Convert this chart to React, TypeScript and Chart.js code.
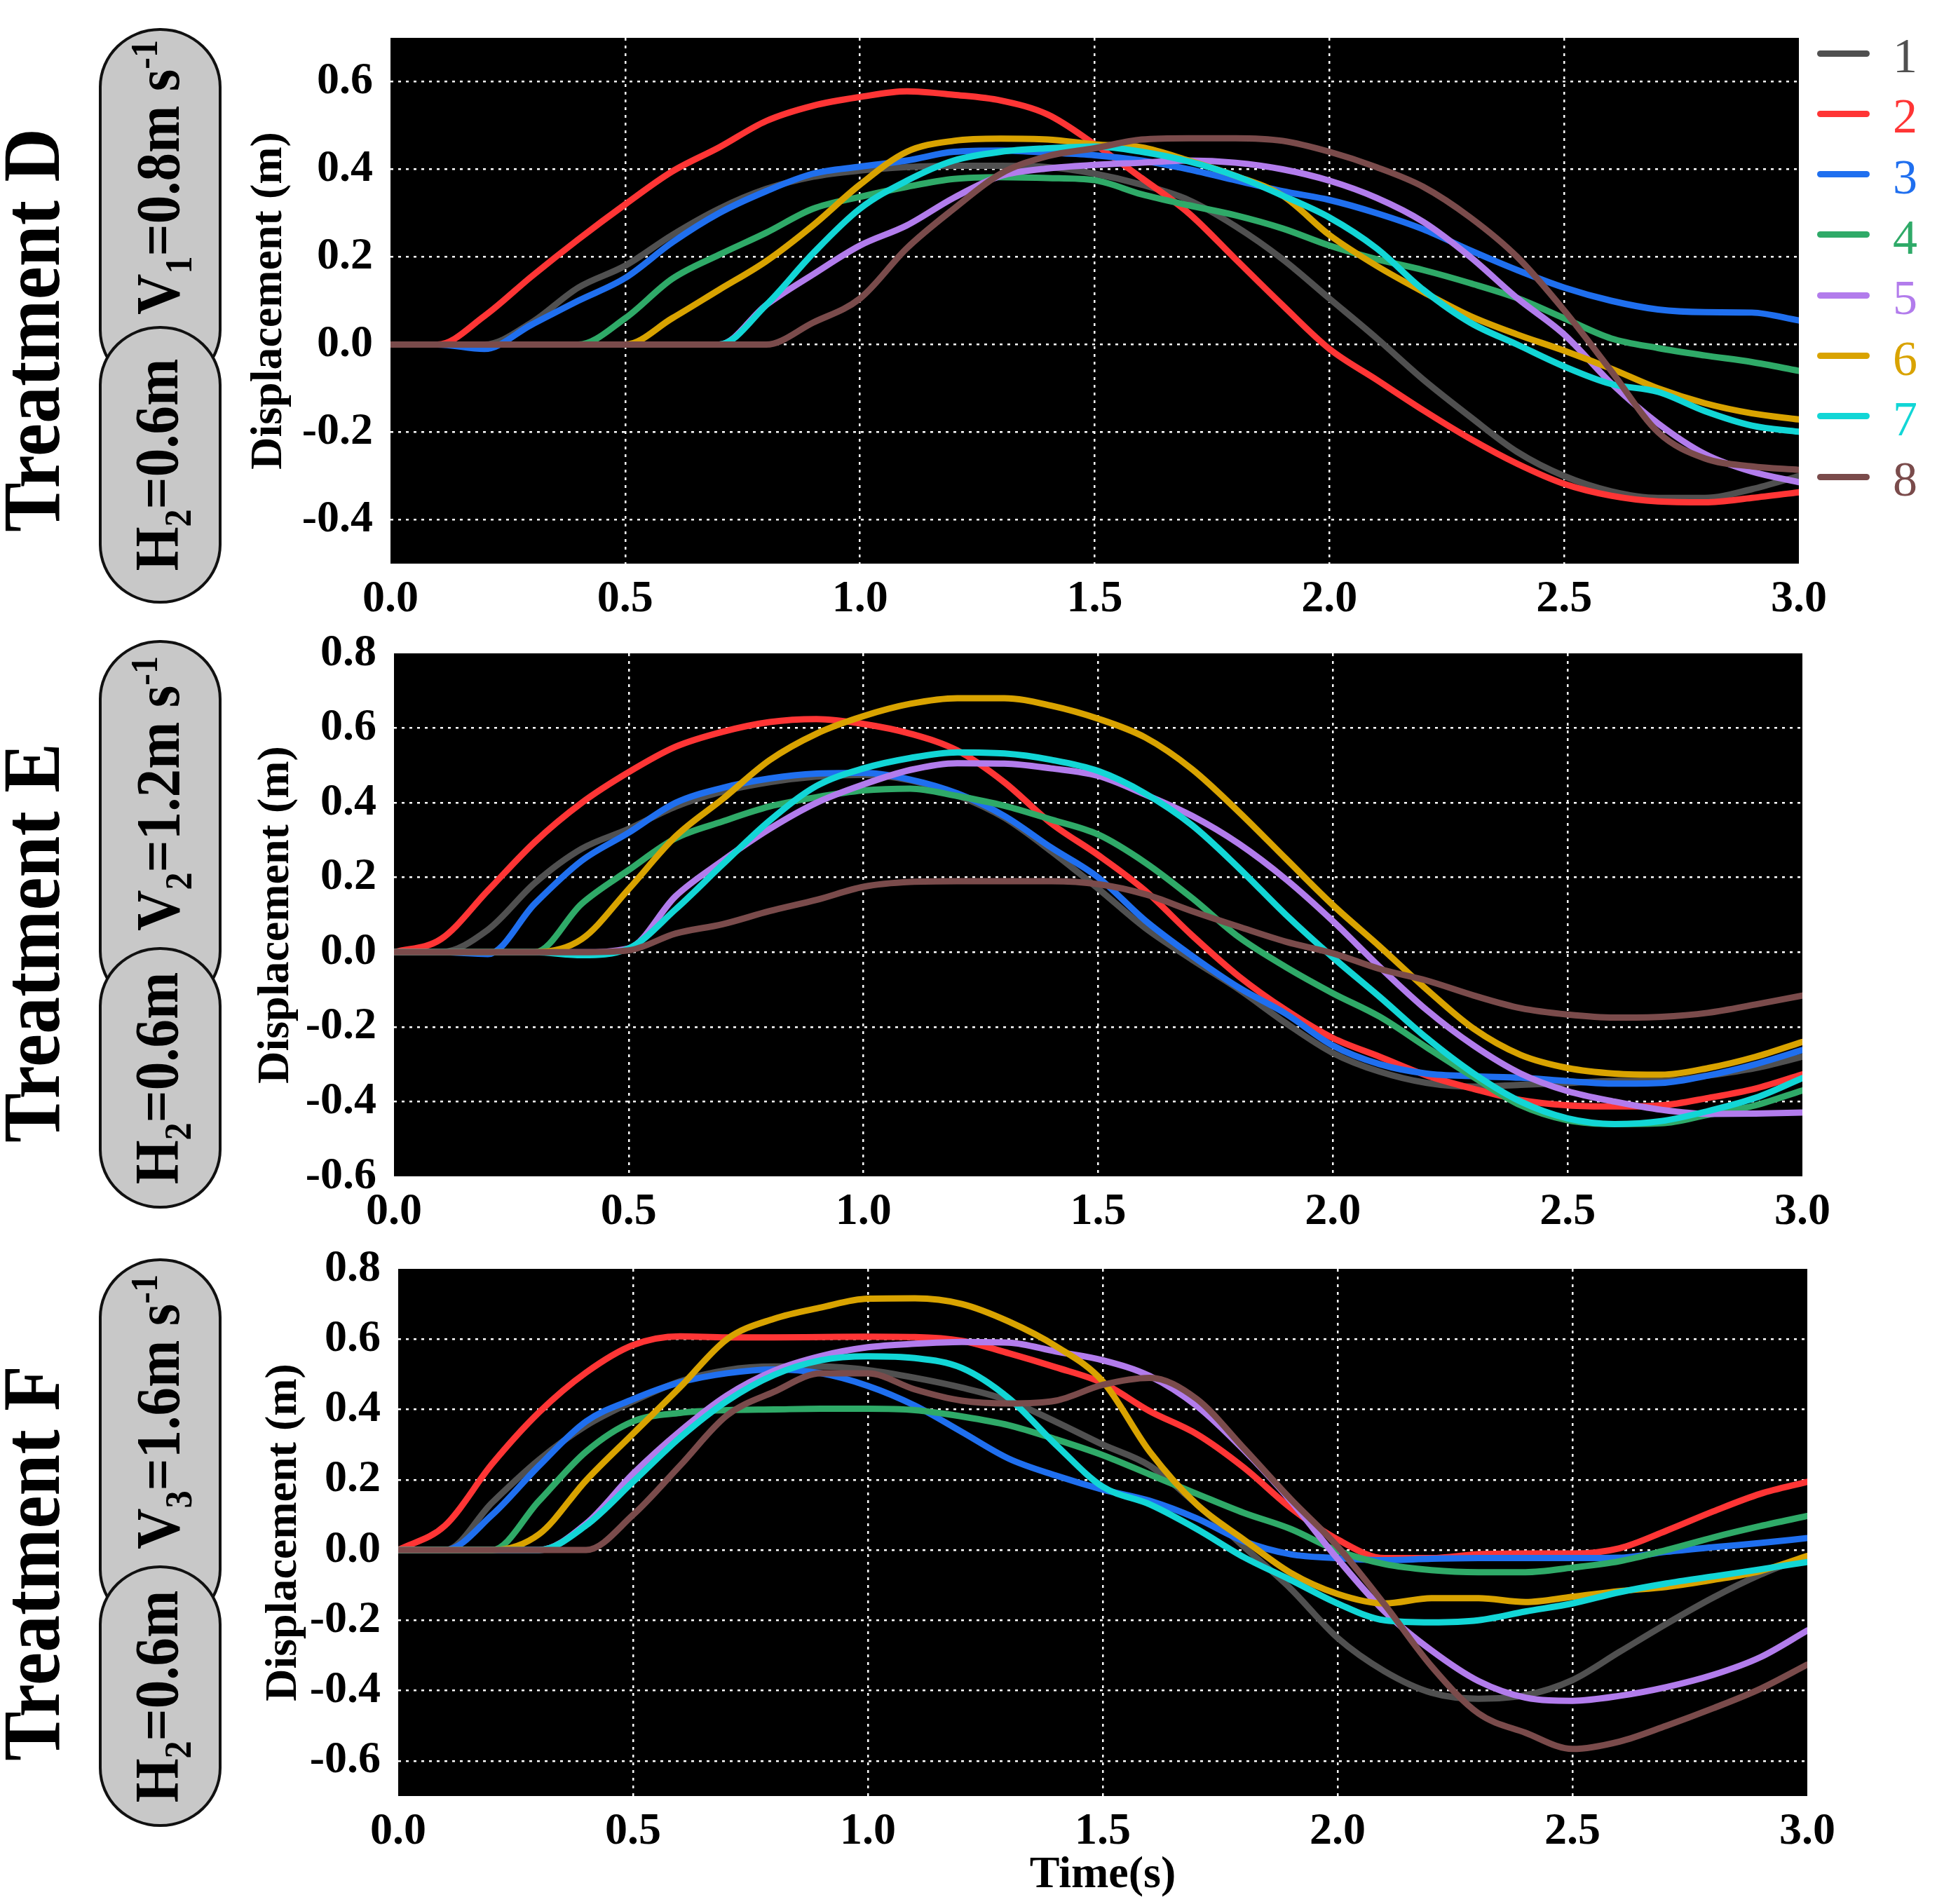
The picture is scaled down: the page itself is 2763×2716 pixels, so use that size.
import { useEffect, useRef } from "react"
import { Chart, registerables } from "chart.js"

Chart.register(...registerables)

const FONT = "'Liberation Serif', 'Times New Roman', serif"

// time axis (s), sampled every 0.1 s
const time = [
  0, 0.1, 0.2, 0.3, 0.4, 0.5, 0.6, 0.7, 0.8, 0.9, 1.0, 1.1, 1.2, 1.3, 1.4, 1.5,
  1.6, 1.7, 1.8, 1.9, 2.0, 2.1, 2.2, 2.3, 2.4, 2.5, 2.6, 2.7, 2.8, 2.9, 3.0,
]
const xTicks = [0, 0.5, 1.0, 1.5, 2.0, 2.5, 3.0]
const yTicksD = [-0.4, -0.2, 0, 0.2, 0.4, 0.6]
const yTicksE = [-0.6, -0.4, -0.2, 0, 0.2, 0.4, 0.6, 0.8]
const yTicksF = [-0.6, -0.4, -0.2, 0, 0.2, 0.4, 0.6, 0.8]

const seriesLabels = ["1", "2", "3", "4", "5", "6", "7", "8"]
const seriesColors = [
  "#505050", "#ff3535", "#1f6fef", "#2faa68",
  "#b27cec", "#d9a300", "#12d6d6", "#7a4b4b",
]

// Treatment D  (V1 = 0.8 m/s)
const dS1 = [0, 0, 0, 0.05, 0.13, 0.18, 0.25, 0.31, 0.355, 0.383, 0.397, 0.405, 0.408, 0.408, 0.405, 0.39, 0.365, 0.33, 0.27, 0.195, 0.105, 0.015, -0.08, -0.165, -0.245, -0.3, -0.335, -0.35, -0.35, -0.33, -0.3]
const dS2 = [0, 0, 0.065, 0.155, 0.24, 0.32, 0.395, 0.45, 0.51, 0.545, 0.565, 0.578, 0.57, 0.557, 0.525, 0.457, 0.38, 0.3, 0.195, 0.09, -0.01, -0.08, -0.15, -0.215, -0.272, -0.318, -0.345, -0.358, -0.36, -0.35, -0.337]
const dS3 = [0, 0, -0.01, 0.045, 0.1, 0.152, 0.233, 0.3, 0.35, 0.39, 0.406, 0.42, 0.44, 0.443, 0.438, 0.432, 0.42, 0.4, 0.375, 0.35, 0.33, 0.3, 0.263, 0.215, 0.17, 0.13, 0.1, 0.08, 0.074, 0.073, 0.055]
const dS4 = [0, 0, 0, 0, 0, 0.06, 0.15, 0.205, 0.255, 0.31, 0.337, 0.36, 0.378, 0.382, 0.38, 0.375, 0.343, 0.318, 0.295, 0.265, 0.226, 0.195, 0.17, 0.14, 0.106, 0.06, 0.014, -0.008, -0.025, -0.04, -0.06]
const dS5 = [0, 0, 0, 0, 0, 0, 0, 0, 0.09, 0.16, 0.226, 0.272, 0.335, 0.385, 0.402, 0.41, 0.415, 0.42, 0.415, 0.4, 0.374, 0.335, 0.28, 0.2, 0.106, 0.023, -0.088, -0.18, -0.25, -0.29, -0.314]
const dS6 = [0, 0, 0, 0, 0, 0, 0.06, 0.125, 0.19, 0.272, 0.365, 0.44, 0.465, 0.47, 0.468, 0.457, 0.45, 0.42, 0.385, 0.34, 0.25, 0.18, 0.12, 0.065, 0.023, -0.014, -0.055, -0.1, -0.134, -0.157, -0.171]
const dS7 = [0, 0, 0, 0, 0, 0, 0, 0, 0.09, 0.208, 0.31, 0.374, 0.42, 0.44, 0.448, 0.452, 0.44, 0.418, 0.385, 0.34, 0.29, 0.22, 0.125, 0.05, 0, -0.05, -0.09, -0.108, -0.152, -0.185, -0.199]
const dS8 = [0, 0, 0, 0, 0, 0, 0, 0, 0, 0.05, 0.105, 0.22, 0.31, 0.39, 0.43, 0.448, 0.468, 0.471, 0.471, 0.465, 0.44, 0.405, 0.36, 0.29, 0.2, 0.078, -0.06, -0.2, -0.26, -0.278, -0.286]

// Treatment E  (V2 = 1.2 m/s)
const eS1 = [0, 0, 0.06, 0.185, 0.277, 0.33, 0.39, 0.43, 0.455, 0.47, 0.475, 0.46, 0.42, 0.36, 0.27, 0.17, 0.065, -0.02, -0.1, -0.19, -0.27, -0.32, -0.35, -0.36, -0.355, -0.35, -0.345, -0.345, -0.33, -0.31, -0.28]
const eS2 = [0, 0.035, 0.165, 0.295, 0.4, 0.482, 0.55, 0.59, 0.616, 0.624, 0.611, 0.585, 0.54, 0.455, 0.345, 0.26, 0.165, 0.045, -0.065, -0.155, -0.23, -0.28, -0.33, -0.366, -0.396, -0.41, -0.413, -0.41, -0.39, -0.365, -0.327]
const eS3 = [0, 0, -0.005, 0.13, 0.245, 0.32, 0.4, 0.44, 0.465, 0.478, 0.48, 0.462, 0.425, 0.365, 0.28, 0.2, 0.085, -0.01, -0.095, -0.165, -0.25, -0.3, -0.325, -0.332, -0.336, -0.345, -0.352, -0.35, -0.33, -0.3, -0.262]
const eS4 = [0, 0, 0, 0, 0.13, 0.22, 0.305, 0.35, 0.39, 0.415, 0.433, 0.438, 0.418, 0.392, 0.355, 0.315, 0.24, 0.145, 0.04, -0.04, -0.11, -0.173, -0.255, -0.335, -0.41, -0.45, -0.46, -0.458, -0.435, -0.41, -0.37]
const eS5 = [0, 0, 0, 0, 0, 0.01, 0.15, 0.245, 0.33, 0.4, 0.449, 0.488, 0.506, 0.505, 0.492, 0.472, 0.422, 0.365, 0.29, 0.195, 0.083, -0.04, -0.155, -0.25, -0.325, -0.372, -0.4, -0.422, -0.433, -0.432, -0.429]
const eS6 = [0, 0, 0, 0, 0.035, 0.169, 0.31, 0.41, 0.514, 0.585, 0.632, 0.665, 0.68, 0.68, 0.66, 0.625, 0.575, 0.49, 0.375, 0.25, 0.126, 0.015, -0.1, -0.205, -0.275, -0.31, -0.325, -0.328, -0.31, -0.28, -0.24]
const eS7 = [0, 0, 0, 0, -0.008, 0.01, 0.115, 0.235, 0.352, 0.445, 0.492, 0.52, 0.535, 0.532, 0.515, 0.485, 0.425, 0.34, 0.225, 0.1, -0.014, -0.12, -0.23, -0.325, -0.4, -0.445, -0.46, -0.452, -0.425, -0.39, -0.337]
const eS8 = [0, 0, 0, 0, 0, 0.005, 0.05, 0.075, 0.11, 0.14, 0.175, 0.188, 0.19, 0.19, 0.19, 0.182, 0.155, 0.11, 0.068, 0.028, -0.003, -0.045, -0.076, -0.116, -0.15, -0.167, -0.175, -0.173, -0.162, -0.14, -0.116]

// Treatment F  (V3 = 1.6 m/s)
const fS1 = [0, 0, 0.135, 0.257, 0.354, 0.423, 0.48, 0.512, 0.522, 0.522, 0.512, 0.49, 0.462, 0.425, 0.365, 0.3, 0.24, 0.13, 0.01, -0.11, -0.25, -0.345, -0.406, -0.423, -0.413, -0.37, -0.29, -0.21, -0.135, -0.07, -0.017]
const fS2 = [0, 0.07, 0.245, 0.392, 0.505, 0.583, 0.608, 0.605, 0.605, 0.606, 0.607, 0.606, 0.595, 0.56, 0.52, 0.475, 0.395, 0.33, 0.235, 0.12, 0.03, -0.023, -0.023, -0.012, -0.01, -0.01, 0.005, 0.055, 0.11, 0.16, 0.194]
const fS3 = [0, 0, 0.1, 0.24, 0.366, 0.429, 0.477, 0.503, 0.514, 0.503, 0.467, 0.411, 0.336, 0.26, 0.212, 0.172, 0.14, 0.09, 0.025, -0.012, -0.023, -0.029, -0.025, -0.023, -0.023, -0.023, -0.022, -0.005, 0.008, 0.02, 0.034]
const fS4 = [0, 0, 0, 0.14, 0.28, 0.366, 0.39, 0.398, 0.4, 0.402, 0.402, 0.398, 0.38, 0.355, 0.315, 0.27, 0.215, 0.16, 0.106, 0.06, -0.002, -0.04, -0.057, -0.063, -0.063, -0.05, -0.032, 0, 0.036, 0.068, 0.097]
const fS5 = [0, 0, 0, 0, 0.075, 0.217, 0.338, 0.44, 0.51, 0.552, 0.577, 0.587, 0.592, 0.59, 0.565, 0.54, 0.495, 0.41, 0.285, 0.14, -0.025, -0.175, -0.286, -0.373, -0.42, -0.429, -0.415, -0.39, -0.355, -0.305, -0.229]
const fS6 = [0, 0, 0, 0.045, 0.198, 0.331, 0.463, 0.6, 0.658, 0.69, 0.715, 0.716, 0.7, 0.65, 0.58, 0.48, 0.28, 0.13, 0.03, -0.065, -0.125, -0.152, -0.137, -0.137, -0.148, -0.133, -0.117, -0.105, -0.085, -0.06, -0.017]
const fS7 = [0, 0, 0, 0, 0.07, 0.194, 0.32, 0.424, 0.498, 0.54, 0.551, 0.546, 0.518, 0.432, 0.3, 0.18, 0.13, 0.06, -0.02, -0.085, -0.152, -0.2, -0.206, -0.2, -0.175, -0.152, -0.12, -0.095, -0.075, -0.055, -0.034]
const fS8 = [0, 0, 0, 0, 0, 0.1, 0.24, 0.383, 0.45, 0.503, 0.503, 0.457, 0.425, 0.417, 0.425, 0.47, 0.49, 0.43, 0.29, 0.145, 0.01, -0.155, -0.331, -0.465, -0.52, -0.566, -0.545, -0.5, -0.45, -0.395, -0.326]

const CANVAS_LEFT = 330
const PAD_TOP = 40
const PAD_RIGHT = 60

// paints the plot area black before the grid goes on
const blackArea = {
  id: "blackArea",
  beforeDraw(chart: Chart) {
    const { ctx, chartArea: a } = chart
    ctx.save()
    ctx.fillStyle = "#000000"
    ctx.fillRect(a.left, a.top, a.right - a.left, a.bottom - a.top)
    ctx.restore()
  },
}

type PanelProps = {
  series: number[][]
  yMin: number
  yMax: number
  yTicks: number[]
  plotLeft: number
  plotRight: number
  plotTop: number
  plotBottom: number
  axisH: number
  titlePad: number
  timeTitle?: boolean
}

function Panel(p: PanelProps) {
  const canvasRef = useRef<HTMLCanvasElement>(null)
  const chartInstance = useRef<Chart | null>(null)

  const width = p.plotRight + PAD_RIGHT - CANVAS_LEFT
  const height = PAD_TOP + (p.plotBottom - p.plotTop) + p.axisH
  const yWidth = p.plotLeft - CANVAS_LEFT

  useEffect(() => {
    if (!canvasRef.current) return
    if (chartInstance.current) chartInstance.current.destroy()

    const tickFont = { family: FONT, size: 64, weight: "bold" as const }
    const edgeColor = (edges: number[]) => (ctx: any) =>
      ctx.tick && edges.includes(ctx.tick.value) ? "rgba(0,0,0,0)" : "#ffffff"

    chartInstance.current = new Chart(canvasRef.current, {
      type: "line",
      data: {
        datasets: p.series.map((vals, i) => ({
          label: seriesLabels[i],
          data: time.map((t, k) => ({ x: t, y: vals[k] })),
          borderColor: seriesColors[i],
          borderWidth: 9,
          pointRadius: 0,
          cubicInterpolationMode: "monotone" as const,
          borderCapStyle: "round" as const,
          borderJoinStyle: "round" as const,
          fill: false,
          order: seriesLabels.length - i,
        })),
      },
      options: {
        responsive: true,
        maintainAspectRatio: false,
        animation: false,
        events: [],
        layout: { padding: { top: PAD_TOP, right: PAD_RIGHT, left: 0, bottom: 0 } },
        plugins: {
          legend: { display: false },
          tooltip: { enabled: false },
        },
        scales: {
          x: {
            type: "linear",
            min: 0,
            max: 3,
            afterBuildTicks: (axis: any) => {
              axis.ticks = xTicks.map((v) => ({ value: v }))
            },
            afterFit: (axis: any) => {
              axis.height = p.axisH
              axis.paddingLeft = 0
              axis.paddingRight = 0
            },
            ticks: {
              autoSkip: false,
              maxRotation: 0,
              padding: 13,
              color: "#000000",
              font: tickFont,
              callback: (v: any) => Number(v).toFixed(1),
            },
            grid: { color: edgeColor([0, 3]), lineWidth: 2.5, drawTicks: false },
            border: { display: false, dash: [4, 7] },
            title: {
              display: !!p.timeTitle,
              text: "Time(s)",
              color: "#000000",
              font: { family: FONT, size: 64, weight: "bold" },
              padding: { top: 0, bottom: 0 },
            },
          },
          y: {
            type: "linear",
            min: p.yMin,
            max: p.yMax,
            afterBuildTicks: (axis: any) => {
              axis.ticks = p.yTicks.map((v) => ({ value: v }))
            },
            afterFit: (axis: any) => {
              axis.width = yWidth
              axis.paddingTop = 0
              axis.paddingBottom = 0
            },
            ticks: {
              autoSkip: false,
              padding: 25,
              color: "#000000",
              font: tickFont,
              callback: (v: any) => Number(v).toFixed(1),
            },
            grid: { color: edgeColor([p.yMin, p.yMax]), lineWidth: 2.5, drawTicks: false },
            border: { display: false, dash: [4, 7] },
            title: {
              display: true,
              text: "Displacement (m)",
              color: "#000000",
              font: { family: FONT, size: 64, weight: "bold" },
              padding: { top: p.titlePad, bottom: 0 },
            },
          },
        },
      },
      plugins: [blackArea],
    })

    return () => {
      if (chartInstance.current) {
        chartInstance.current.destroy()
        chartInstance.current = null
      }
    }
  }, [])

  return (
    <div
      style={{
        position: "absolute",
        left: CANVAS_LEFT,
        top: p.plotTop - PAD_TOP,
        width,
        height,
      }}
    >
      <canvas ref={canvasRef}></canvas>
    </div>
  )
}

function Rotated({ x, y, size, children }: { x: number; y: number; size: number; children: any }) {
  return (
    <div
      style={{
        position: "absolute",
        left: x,
        top: y,
        transform: "translate(-50%, -50%) scaleX(1.1) rotate(-90deg)",
        fontFamily: FONT,
        fontWeight: "bold",
        fontSize: size,
        lineHeight: 1,
        whiteSpace: "nowrap",
        color: "#000000",
      }}
    >
      {children}
    </div>
  )
}

function Pills({ top, split, bottom, v }: { top: number; split: number; bottom: number; v: any }) {
  const pill = {
    position: "absolute" as const,
    left: 141,
    width: 175,
    boxSizing: "border-box" as const,
    background: "#c8c8c8",
    border: "4px solid #111111",
    borderRadius: "87px / 84px",
  }
  return (
    <>
      <div style={{ ...pill, top, height: split + 90 - top }} />
      <div style={{ ...pill, top: split, height: bottom - split }} />
      <Rotated x={230} y={(top + split) / 2} size={81}>
        {v}
      </Rotated>
      <Rotated x={230} y={(split + bottom) / 2} size={81}>
        H<sub style={{ fontSize: "0.62em" }}>2</sub>=0.6m
      </Rotated>
    </>
  )
}

function Legend() {
  return (
    <>
      {seriesLabels.map((name, i) => {
        const cy = 76 + i * 86.3
        return (
          <div key={name}>
            <div
              style={{
                position: "absolute",
                left: 2592,
                top: cy - 4.5,
                width: 75,
                height: 9,
                borderRadius: 5,
                background: seriesColors[i],
              }}
            />
            <div
              style={{
                position: "absolute",
                left: 2700,
                top: cy + 4 - 34,
                height: 68,
                lineHeight: "68px",
                fontFamily: FONT,
                fontSize: 70,
                color: seriesColors[i],
              }}
            >
              {name}
            </div>
          </div>
        )
      })}
    </>
  )
}

export default function App() {
  return (
    <div
      style={{
        position: "absolute",
        left: 0,
        top: 0,
        width: 2763,
        height: 2716,
        background: "#ffffff",
        overflow: "hidden",
      }}
    >
      <Rotated x={45} y={471} size={106}>Treatment D</Rotated>
      <Rotated x={45} y={1345} size={106}>Treatment E</Rotated>
      <Rotated x={45} y={2230} size={106}>Treatment F</Rotated>

      <Pills
        top={40}
        split={465}
        bottom={861}
        v={<>V<sub style={{ fontSize: "0.62em" }}>1</sub>=0.8m s<sup style={{ fontSize: "0.62em" }}>-1</sup></>}
      />
      <Pills
        top={913}
        split={1351}
        bottom={1724}
        v={<>V<sub style={{ fontSize: "0.62em" }}>2</sub>=1.2m s<sup style={{ fontSize: "0.62em" }}>-1</sup></>}
      />
      <Pills
        top={1795}
        split={2233}
        bottom={2606}
        v={<>V<sub style={{ fontSize: "0.62em" }}>3</sub>=1.6m s<sup style={{ fontSize: "0.62em" }}>-1</sup></>}
      />

      <Panel
        series={[dS1, dS2, dS3, dS4, dS5, dS6, dS7, dS8]}
        yMin={-0.5}
        yMax={0.7}
        yTicks={yTicksD}
        plotLeft={557}
        plotRight={2566}
        plotTop={54}
        plotBottom={804}
        axisH={88}
        titlePad={16}
      />
      <Panel
        series={[eS1, eS2, eS3, eS4, eS5, eS6, eS7, eS8]}
        yMin={-0.6}
        yMax={0.8}
        yTicks={yTicksE}
        plotLeft={562}
        plotRight={2571}
        plotTop={932}
        plotBottom={1678}
        axisH={88}
        titlePad={26}
      />
      <Panel
        series={[fS1, fS2, fS3, fS4, fS5, fS6, fS7, fS8]}
        yMin={-0.7}
        yMax={0.8}
        yTicks={yTicksF}
        plotLeft={568}
        plotRight={2578}
        plotTop={1810}
        plotBottom={2562}
        axisH={152}
        titlePad={37}
        timeTitle
      />

      <Legend />
    </div>
  )
}
